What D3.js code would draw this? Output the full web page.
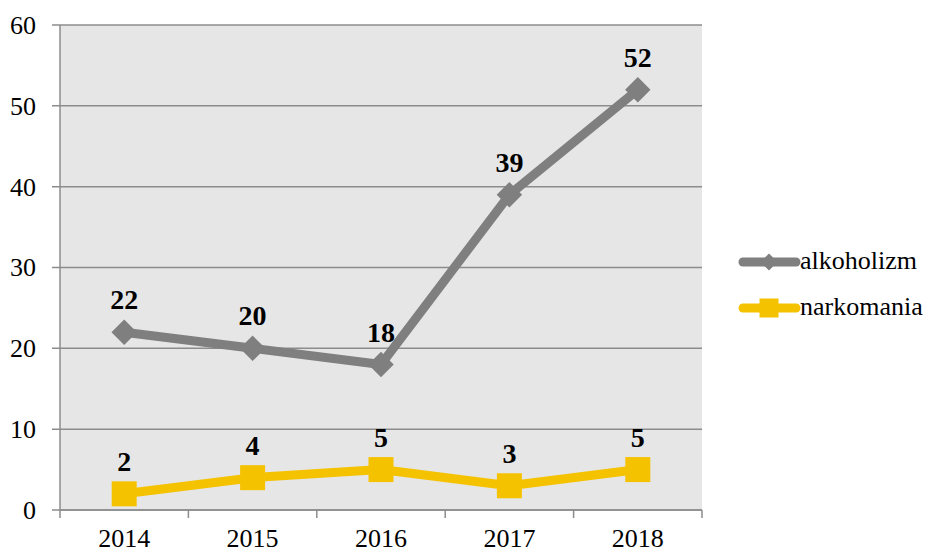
<!DOCTYPE html>
<html>
<head>
<meta charset="utf-8">
<script src="https://cdn.jsdelivr.net/npm/d3@7"></script>
</head>
<body style="margin:0">
<div id="chart"></div>
<script>
// Dane
const years = ["2014", "2015", "2016", "2017", "2018"];
const alkoholizm = [22, 20, 18, 39, 52];
const narkomania = [2, 4, 5, 3, 5];
const yTicks = [0, 10, 20, 30, 40, 50, 60];

const FONT = "Liberation Serif";

const width = 928;
const height = 550;
const margin = { top: 25, right: 226, bottom: 40, left: 60 };
const innerWidth = width - margin.left - margin.right;
const innerHeight = height - margin.top - margin.bottom;

const svg = d3
  .select("#chart")
  .append("svg")
  .attr("width", width)
  .attr("height", height)
  .style("font-family", FONT);

const chart = svg
  .append("g")
  .attr("transform", `translate(${margin.left}, ${margin.top})`);

const x = d3.scaleBand().domain(years).range([0, innerWidth]);
const y = d3.scaleLinear().domain([0, 60]).range([innerHeight, 0]);

// Tlo
chart
  .append("rect")
  .attr("width", innerWidth)
  .attr("height", innerHeight)
  .attr("fill", "#e6e6e6");

// Siatka
chart
  .selectAll("line.grid")
  .data(yTicks)
  .enter()
  .append("line")
  .attr("class", "grid")
  .attr("x1", -8)
  .attr("x2", innerWidth)
  .attr("y1", (d) => y(d))
  .attr("y2", (d) => y(d))
  .attr("stroke", "#8c8c8c")
  .attr("stroke-width", 1.5);

chart
  .selectAll("text.ylab")
  .data(yTicks)
  .enter()
  .append("text")
  .attr("class", "ylab")
  .attr("x", -24)
  .attr("y", (d) => y(d))
  .attr("dy", "0.34em")
  .attr("text-anchor", "end")
  .style("font-family", FONT)
  .style("font-size", "26px")
  .text((d) => d);

chart
  .append("line")
  .attr("x1", 0)
  .attr("x2", 0)
  .attr("y1", 0)
  .attr("y2", innerHeight)
  .attr("stroke", "#8c8c8c")
  .attr("stroke-width", 1.5);

// Os X
const xAxis = chart.append("g").attr("transform", `translate(0, ${innerHeight})`);
xAxis
  .append("line")
  .attr("x1", 0)
  .attr("x2", innerWidth)
  .attr("stroke", "#8c8c8c")
  .attr("stroke-width", 1.5);
xAxis
  .selectAll("line.tick")
  .data(years.concat(["end"]))
  .enter()
  .append("line")
  .attr("class", "tick")
  .attr("x1", (d, i) => (i < years.length ? x(d) : innerWidth))
  .attr("x2", (d, i) => (i < years.length ? x(d) : innerWidth))
  .attr("y1", 0)
  .attr("y2", 8)
  .attr("stroke", "#8c8c8c")
  .attr("stroke-width", 1.5);
xAxis
  .selectAll("text")
  .data(years)
  .enter()
  .append("text")
  .attr("x", (d) => x(d) + x.bandwidth() / 2)
  .attr("y", 37)
  .attr("text-anchor", "middle")
  .style("font-family", FONT)
  .style("font-size", "26px")
  .text((d) => d);

const series = [
  { name: "alkoholizm", values: alkoholizm, color: "#7f7f7f", shape: "diamond" },
  { name: "narkomania", values: narkomania, color: "#f5c200", shape: "square" },
];

const line = d3
  .line()
  .x((d, i) => x(years[i]) + x.bandwidth() / 2)
  .y((d) => y(d));

function marker(sel, shape, color) {
  if (shape === "diamond") {
    sel.append("rect")
      .attr("x", -9)
      .attr("y", -9)
      .attr("width", 18)
      .attr("height", 18)
      .attr("transform", "rotate(45)")
      .attr("fill", color);
  } else {
    sel.append("rect")
      .attr("x", -12.5)
      .attr("y", -12.5)
      .attr("width", 25)
      .attr("height", 25)
      .attr("fill", color);
  }
}

series.forEach((s) => {
  chart
    .append("path")
    .datum(s.values)
    .attr("d", line)
    .attr("fill", "none")
    .attr("stroke", s.color)
    .attr("stroke-width", 9)
    .attr("stroke-linejoin", "round");

  chart
    .selectAll(null)
    .data(s.values)
    .enter()
    .append("g")
    .attr("transform", (d, i) => `translate(${x(years[i]) + x.bandwidth() / 2}, ${y(d)})`)
    .each(function () {
      marker(d3.select(this), s.shape, s.color);
    });

  chart
    .selectAll(null)
    .data(s.values)
    .enter()
    .append("text")
    .attr("x", (d, i) => x(years[i]) + x.bandwidth() / 2)
    .attr("y", (d) => y(d) - 23)
    .attr("text-anchor", "middle")
    .style("font-family", FONT)
    .style("font-size", "28px")
    .style("font-weight", "bold")
    .text((d) => d);
});

// Legenda
const legend = svg.append("g").attr("transform", "translate(740, 262)");
series.forEach((s, i) => {
  const g = legend.append("g").attr("transform", `translate(0, ${i * 46})`);
  g.append("line")
    .attr("x1", 3)
    .attr("x2", 56)
    .attr("stroke", s.color)
    .attr("stroke-width", 9)
    .attr("stroke-linecap", "round");
  const m = g.append("g").attr("transform", "translate(29, 0)");
  if (s.shape === "diamond") {
    m.append("rect").attr("x", -6).attr("y", -6).attr("width", 12).attr("height", 12)
      .attr("transform", "rotate(45)").attr("fill", s.color);
  } else {
    m.append("rect").attr("x", -9.5).attr("y", -9.5).attr("width", 19).attr("height", 19)
      .attr("fill", s.color);
  }
  g.append("text")
    .attr("x", 60)
    .attr("y", 7)
    .style("font-family", FONT)
    .style("font-size", "26px")
    .text(s.name);
});
</script>
</body>
</html>
